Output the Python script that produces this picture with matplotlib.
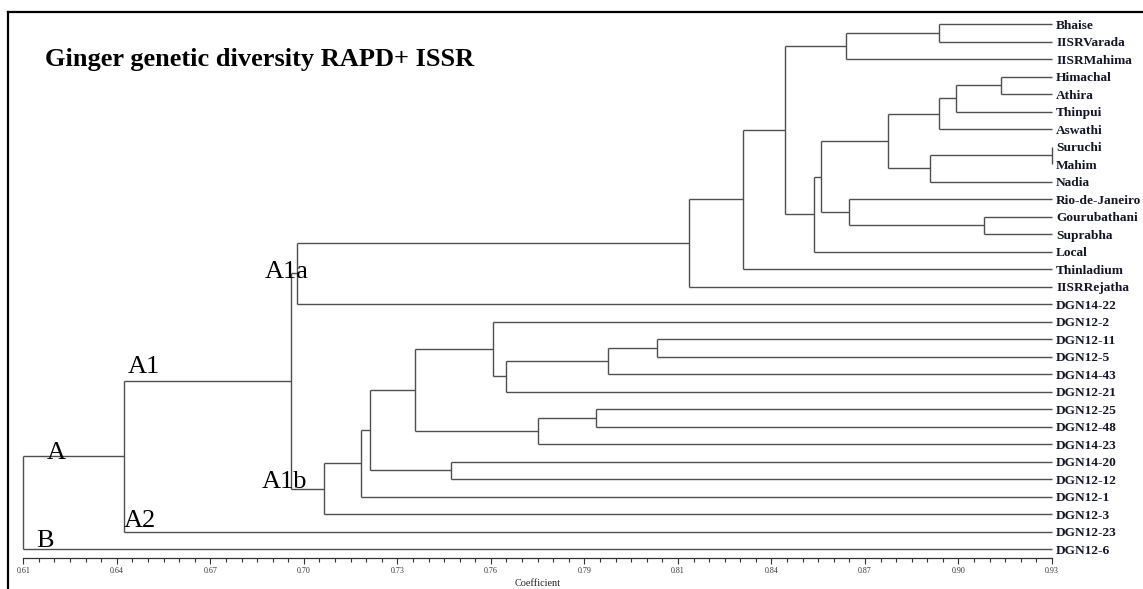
import numpy as np
import matplotlib
matplotlib.use("Agg")
import matplotlib.pyplot as plt
from matplotlib.lines import Line2D

# leaves, top to bottom
leaves = ["Bhaise", "IISRVarada", "IISRMahima", "Himachal", "Athira", "Thinpui",
          "Aswathi", "Suruchi", "Mahim", "Nadia", "Rio-de-Janeiro", "Gourubathani",
          "Suprabha", "Local", "Thinladium", "IISRRejatha", "DGN14-22", "DGN12-2",
          "DGN12-11", "DGN12-5", "DGN14-43", "DGN12-21", "DGN12-25", "DGN12-48",
          "DGN14-23", "DGN14-20", "DGN12-12", "DGN12-1", "DGN12-3", "DGN12-23",
          "DGN12-6"]

# merges: (child a, child b, similarity coefficient); new node ids start at len(leaves)
merge_a = [0, 31, 3, 33, 34, 7, 36, 35, 11, 10, 38, 41, 32, 43, 44, 45,
           18, 47, 48, 17, 22, 51, 50, 25, 53, 55, 56, 46, 58, 59]
merge_b = [1, 2, 4, 5, 6, 8, 9, 37, 12, 39, 40, 13, 42, 14, 15, 16,
           19, 20, 21, 49, 23, 24, 52, 26, 54, 27, 28, 57, 29, 30]
merge_h = [0.895, 0.866, 0.914, 0.900, 0.895, 0.930, 0.892, 0.879, 0.909, 0.867,
           0.858, 0.856, 0.847, 0.834, 0.817, 0.695,
           0.807, 0.792, 0.760, 0.756, 0.788, 0.770, 0.732, 0.743, 0.718, 0.715,
           0.7035, 0.6933, 0.6413, 0.61]

# cluster labels (text, x, y)
group_names = ["A", "A1", "A1a", "A1b", "A2", "B"]
group_x = [0.6174, 0.6425, 0.6852, 0.6843, 0.6413, 0.6140]
group_y = [24.87, 19.93, 14.50, 26.53, 28.73, 29.87]

xmin, xmax = 0.61, 0.93
tick_labels = ["0.61", "0.64", "0.67", "0.70", "0.73", "0.76",
               "0.79", "0.81", "0.84", "0.87", "0.90", "0.93"]

plt.rcParams['font.family'] = ['Liberation Serif', 'DejaVu Serif']

W, H = 1143, 589
fig = plt.figure(figsize=(W / 100, H / 100), dpi=100)
ax = fig.add_axes([23.3 / W, 1 - 558.3 / H, (1052 - 23.3) / W, (558.3 - 12) / H])

n = len(leaves)
ypos = {i: float(i) for i in range(n)}
xpos = {i: xmax for i in range(n)}
line_col = '#4f4f4f'
for k in range(len(merge_h)):
    a, b, h = merge_a[k], merge_b[k], merge_h[k]
    node = n + k
    ax.plot([h, h], [ypos[a], ypos[b]], color=line_col, lw=1.0, clip_on=False,
            solid_capstyle='butt')
    for c in (a, b):
        ax.plot([h, xpos[c]], [ypos[c], ypos[c]], color=line_col, lw=1.0,
                clip_on=False, solid_capstyle='butt')
    ypos[node] = (ypos[a] + ypos[b]) / 2
    xpos[node] = h

for i, name in enumerate(leaves):
    ax.annotate(name, (xmax, i), xytext=(3, -3.4), textcoords='offset points',
                ha='left', va='baseline', fontsize=9.6, fontweight='bold',
                color='#15152a', annotation_clip=False)

for name, gx, gy in zip(group_names, group_x, group_y):
    ax.text(gx, gy, name, fontsize=19, ha='left', va='baseline', color='black')

ax.set_xlim(xmin, xmax)
ax.set_ylim((558.3 - 24) / 17.5, (12 - 24) / 17.5)

major = np.linspace(xmin, xmax, len(tick_labels))
minor = np.linspace(xmin, xmax, (len(tick_labels) - 1) * 6 + 1)
ax.set_xticks(major)
ax.set_xticklabels(tick_labels)
ax.set_xticks(minor, minor=True)
ax.set_yticks([])
ax.tick_params(axis='x', which='major', direction='out', length=4.5, width=0.8,
               color='#333333', labelsize=5.8, labelcolor='#333333', pad=1.5)
ax.tick_params(axis='x', which='minor', direction='out', length=2.6, width=0.8,
               color='#333333')
for s in ('top', 'left', 'right'):
    ax.spines[s].set_visible(False)
ax.spines['bottom'].set_color('#333333')
ax.spines['bottom'].set_linewidth(0.9)
ax.patch.set_visible(False)

fig.text(45 / W, 1 - 66 / H, "Ginger genetic diversity RAPD+ ISSR", fontsize=19,
         fontweight='bold', ha='left', va='baseline')
fig.text(538 / W, 1 - 583 / H, "Coefficient", fontsize=7.4, ha='center',
         va='center', color='#222222')

# frame edges (top and left only visible in the crop)
fig.add_artist(Line2D([8 / W, 1], [1 - 12 / H, 1 - 12 / H], color='black', lw=1.6,
                      transform=fig.transFigure))
fig.add_artist(Line2D([8 / W, 8 / W], [1 - 12 / H, 0], color='black', lw=1.6,
                      transform=fig.transFigure))

fig.savefig('out.png', dpi=100)
